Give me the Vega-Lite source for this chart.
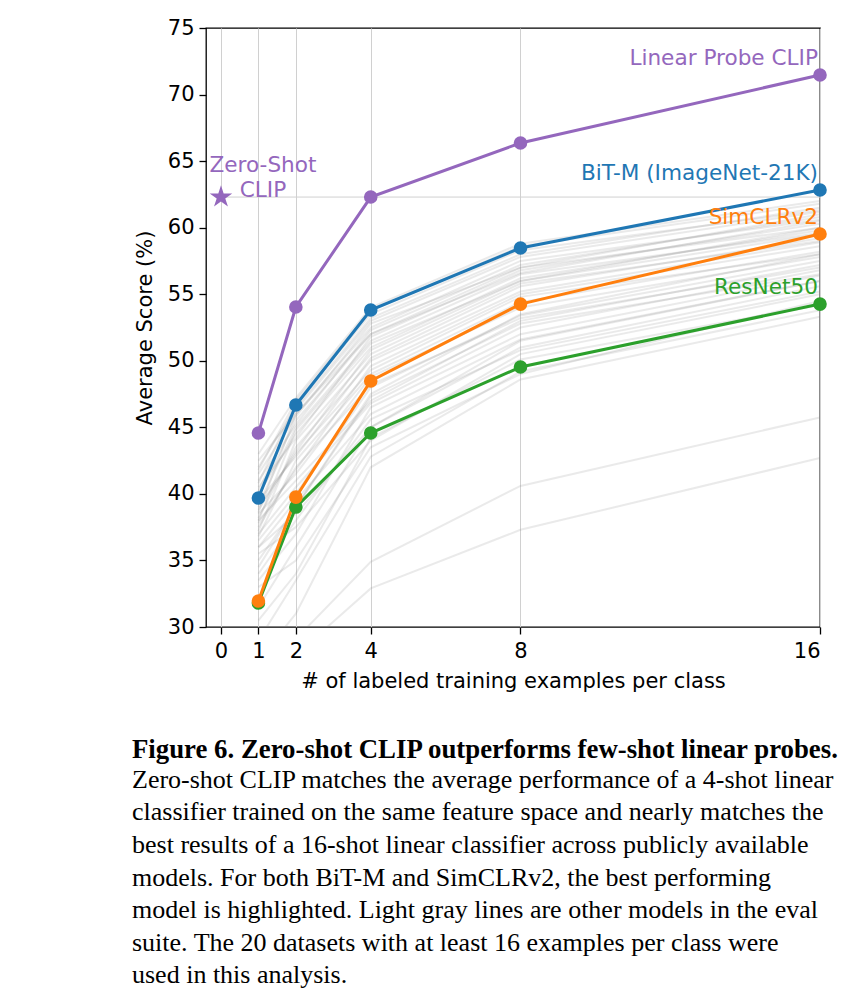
{
"$schema": "https://vega.github.io/schema/vega-lite/v6.json",
"width": 614, "height": 599,
"autosize": {"type": "none"},
"padding": {"left": 206, "top": 28, "right": 32, "bottom": 372},
"background": "white",
"title": {
  "text": "Figure 6. Zero-shot CLIP outperforms few-shot linear probes.",
  "subtitle": ["Zero-shot CLIP matches the average performance of a 4-shot linear", "classifier trained on the same feature space and nearly matches the", "best results of a 16-shot linear classifier across publicly available", "models.  For both BiT-M and SimCLRv2, the best performing", "model is highlighted. Light gray lines are other models in the eval", "suite.  The 20 datasets with at least 16 examples per class were", "used in this analysis."],
  "orient": "bottom", "anchor": "start", "frame": "group", "dx": -74, "offset": 46,
  "font": "Liberation Serif", "fontSize": 26.8, "fontWeight": "bold", "color": "black",
  "subtitleFont": "Liberation Serif", "subtitleFontSize": 26, "subtitleColor": "black", "subtitleLineHeight": 32.6, "subtitlePadding": 3
},
"config": {
  "view": {"stroke": "black", "strokeWidth": 1.3},
  "axis": {"labelFont": "DejaVu Sans", "titleFont": "DejaVu Sans", "labelFontSize": 21, "titleFontSize": 21, "titleFontWeight": "normal", "labelColor": "black", "titleColor": "black", "tickColor": "black", "tickSize": 7, "tickWidth": 1.3, "domain": false, "gridColor": "#d0d0d0", "gridWidth": 1}
},
"datasets": {
  "gray": [
{"m":"g1","k":1,"v":27.5},{"m":"g1","k":2,"v":31.0},{"m":"g1","k":4,"v":42.0},{"m":"g1","k":8,"v":48.6},{"m":"g1","k":16,"v":53.3},
{"m":"g2","k":1,"v":29.0},{"m":"g2","k":2,"v":33.5},{"m":"g2","k":4,"v":42.8},{"m":"g2","k":8,"v":49.2},{"m":"g2","k":16,"v":53.8},
{"m":"g3","k":1,"v":33.0},{"m":"g3","k":2,"v":35.0},{"m":"g3","k":4,"v":43.5},{"m":"g3","k":8,"v":49.0},{"m":"g3","k":16,"v":54.5},
{"m":"g4","k":1,"v":30.5},{"m":"g4","k":2,"v":34.0},{"m":"g4","k":4,"v":44.2},{"m":"g4","k":8,"v":50.1},{"m":"g4","k":16,"v":54.2},
{"m":"g5","k":1,"v":35.5},{"m":"g5","k":2,"v":37.5},{"m":"g5","k":4,"v":44.0},{"m":"g5","k":8,"v":50.5},{"m":"g5","k":16,"v":55.0},
{"m":"g6","k":1,"v":31.5},{"m":"g6","k":2,"v":36.0},{"m":"g6","k":4,"v":45.0},{"m":"g6","k":8,"v":51.0},{"m":"g6","k":16,"v":55.6},
{"m":"g7","k":1,"v":34.0},{"m":"g7","k":2,"v":38.0},{"m":"g7","k":4,"v":45.6},{"m":"g7","k":8,"v":50.8},{"m":"g7","k":16,"v":55.2},
{"m":"g8","k":1,"v":36.0},{"m":"g8","k":2,"v":39.5},{"m":"g8","k":4,"v":46.0},{"m":"g8","k":8,"v":51.6},{"m":"g8","k":16,"v":56.0},
{"m":"g9","k":1,"v":33.5},{"m":"g9","k":2,"v":37.0},{"m":"g9","k":4,"v":46.5},{"m":"g9","k":8,"v":52.0},{"m":"g9","k":16,"v":56.4},
{"m":"g10","k":1,"v":37.0},{"m":"g10","k":2,"v":40.5},{"m":"g10","k":4,"v":46.8},{"m":"g10","k":8,"v":52.5},{"m":"g10","k":16,"v":56.8},
{"m":"g11","k":1,"v":35.0},{"m":"g11","k":2,"v":39.0},{"m":"g11","k":4,"v":47.3},{"m":"g11","k":8,"v":52.8},{"m":"g11","k":16,"v":56.5},
{"m":"g12","k":1,"v":38.0},{"m":"g12","k":2,"v":41.0},{"m":"g12","k":4,"v":47.0},{"m":"g12","k":8,"v":53.0},{"m":"g12","k":16,"v":57.2},
{"m":"g13","k":1,"v":36.5},{"m":"g13","k":2,"v":40.0},{"m":"g13","k":4,"v":48.0},{"m":"g13","k":8,"v":53.4},{"m":"g13","k":16,"v":57.5},
{"m":"g14","k":1,"v":37.5},{"m":"g14","k":2,"v":42.0},{"m":"g14","k":4,"v":48.2},{"m":"g14","k":8,"v":53.2},{"m":"g14","k":16,"v":57.0},
{"m":"g15","k":1,"v":38.5},{"m":"g15","k":2,"v":41.5},{"m":"g15","k":4,"v":48.8},{"m":"g15","k":8,"v":54.0},{"m":"g15","k":16,"v":57.8},
{"m":"g16","k":1,"v":36.8},{"m":"g16","k":2,"v":42.5},{"m":"g16","k":4,"v":49.0},{"m":"g16","k":8,"v":54.4},{"m":"g16","k":16,"v":58.2},
{"m":"g17","k":1,"v":39.0},{"m":"g17","k":2,"v":43.0},{"m":"g17","k":4,"v":49.3},{"m":"g17","k":8,"v":54.8},{"m":"g17","k":16,"v":58.0},
{"m":"g18","k":1,"v":37.8},{"m":"g18","k":2,"v":41.8},{"m":"g18","k":4,"v":49.6},{"m":"g18","k":8,"v":55.0},{"m":"g18","k":16,"v":58.6},
{"m":"g19","k":1,"v":38.2},{"m":"g19","k":2,"v":43.5},{"m":"g19","k":4,"v":50.0},{"m":"g19","k":8,"v":55.2},{"m":"g19","k":16,"v":58.9},
{"m":"g20","k":1,"v":39.5},{"m":"g20","k":2,"v":42.8},{"m":"g20","k":4,"v":50.2},{"m":"g20","k":8,"v":55.6},{"m":"g20","k":16,"v":59.2},
{"m":"g21","k":1,"v":37.2},{"m":"g21","k":2,"v":44.0},{"m":"g21","k":4,"v":50.5},{"m":"g21","k":8,"v":55.8},{"m":"g21","k":16,"v":59.0},
{"m":"g22","k":1,"v":38.8},{"m":"g22","k":2,"v":43.2},{"m":"g22","k":4,"v":50.8},{"m":"g22","k":8,"v":56.0},{"m":"g22","k":16,"v":59.5},
{"m":"g23","k":1,"v":40.0},{"m":"g23","k":2,"v":44.5},{"m":"g23","k":4,"v":51.0},{"m":"g23","k":8,"v":56.2},{"m":"g23","k":16,"v":59.8},
{"m":"g24","k":1,"v":38.0},{"m":"g24","k":2,"v":44.8},{"m":"g24","k":4,"v":51.3},{"m":"g24","k":8,"v":56.0},{"m":"g24","k":16,"v":60.0},
{"m":"g25","k":1,"v":39.2},{"m":"g25","k":2,"v":45.0},{"m":"g25","k":4,"v":51.5},{"m":"g25","k":8,"v":56.5},{"m":"g25","k":16,"v":59.6},
{"m":"g26","k":1,"v":40.5},{"m":"g26","k":2,"v":44.2},{"m":"g26","k":4,"v":51.8},{"m":"g26","k":8,"v":56.8},{"m":"g26","k":16,"v":60.3},
{"m":"g27","k":1,"v":39.8},{"m":"g27","k":2,"v":45.5},{"m":"g27","k":4,"v":52.0},{"m":"g27","k":8,"v":56.6},{"m":"g27","k":16,"v":60.5},
{"m":"g28","k":1,"v":41.0},{"m":"g28","k":2,"v":45.2},{"m":"g28","k":4,"v":52.3},{"m":"g28","k":8,"v":57.2},{"m":"g28","k":16,"v":60.8},
{"m":"g29","k":1,"v":38.6},{"m":"g29","k":2,"v":46.0},{"m":"g29","k":4,"v":52.5},{"m":"g29","k":8,"v":57.5},{"m":"g29","k":16,"v":60.6},
{"m":"g30","k":1,"v":41.5},{"m":"g30","k":2,"v":45.8},{"m":"g30","k":4,"v":52.8},{"m":"g30","k":8,"v":57.0},{"m":"g30","k":16,"v":61.0},
{"m":"g31","k":1,"v":40.2},{"m":"g31","k":2,"v":46.3},{"m":"g31","k":4,"v":53.0},{"m":"g31","k":8,"v":57.8},{"m":"g31","k":16,"v":61.2},
{"m":"g32","k":1,"v":42.0},{"m":"g32","k":2,"v":46.5},{"m":"g32","k":4,"v":53.2},{"m":"g32","k":8,"v":58.0},{"m":"g32","k":16,"v":61.5},
{"m":"g33","k":1,"v":40.8},{"m":"g33","k":2,"v":46.8},{"m":"g33","k":4,"v":53.5},{"m":"g33","k":8,"v":58.3},{"m":"g33","k":16,"v":61.3},
{"m":"g34","k":1,"v":41.8},{"m":"g34","k":2,"v":47.0},{"m":"g34","k":4,"v":53.8},{"m":"g34","k":8,"v":58.6},{"m":"g34","k":16,"v":61.8},
{"m":"g35","k":1,"v":43.0},{"m":"g35","k":2,"v":47.2},{"m":"g35","k":4,"v":54.0},{"m":"g35","k":8,"v":58.8},{"m":"g35","k":16,"v":62.0},
{"m":"g36","k":1,"v":42.5},{"m":"g36","k":2,"v":46.0},{"m":"g36","k":4,"v":52.0},{"m":"g36","k":8,"v":57.0},{"m":"g36","k":16,"v":60.0},
{"m":"g37","k":1,"v":36.0},{"m":"g37","k":2,"v":38.5},{"m":"g37","k":4,"v":45.0},{"m":"g37","k":8,"v":51.5},{"m":"g37","k":16,"v":56.0},
{"m":"g38","k":1,"v":34.5},{"m":"g38","k":2,"v":39.0},{"m":"g38","k":4,"v":47.5},{"m":"g38","k":8,"v":53.5},{"m":"g38","k":16,"v":58.0},
{"m":"o1","k":1,"v":22.0},{"m":"o1","k":2,"v":29.1},{"m":"o1","k":4,"v":34.9},{"m":"o1","k":8,"v":40.6},{"m":"o1","k":16,"v":45.75},
{"m":"o2","k":1,"v":20.0},{"m":"o2","k":2,"v":27.9},{"m":"o2","k":4,"v":32.9},{"m":"o2","k":8,"v":37.3},{"m":"o2","k":16,"v":42.7}
  ],
  "main": [
{"s":"ResNet50","k":1,"v":31.8},{"s":"ResNet50","k":2,"v":39.01},{"s":"ResNet50","k":4,"v":44.57},{"s":"ResNet50","k":8,"v":49.53},{"s":"ResNet50","k":16,"v":54.26},
{"s":"SimCLRv2","k":1,"v":31.95},{"s":"SimCLRv2","k":2,"v":39.76},{"s":"SimCLRv2","k":4,"v":48.48},{"s":"SimCLRv2","k":8,"v":54.26},{"s":"SimCLRv2","k":16,"v":59.52},
{"s":"BiT-M (ImageNet-21K)","k":1,"v":39.69},{"s":"BiT-M (ImageNet-21K)","k":2,"v":46.68},{"s":"BiT-M (ImageNet-21K)","k":4,"v":53.81},{"s":"BiT-M (ImageNet-21K)","k":8,"v":58.47},{"s":"BiT-M (ImageNet-21K)","k":16,"v":62.83},
{"s":"Linear Probe CLIP","k":1,"v":44.57},{"s":"Linear Probe CLIP","k":2,"v":54.04},{"s":"Linear Probe CLIP","k":4,"v":62.3},{"s":"Linear Probe CLIP","k":8,"v":66.36},{"s":"Linear Probe CLIP","k":16,"v":71.47}
  ],
  "zs": [{"s":"Zero-Shot CLIP","k":0,"v":62.3,"k2":16,"label":"Zero-Shot\nCLIP"}]
},
"layer": [
  {"data": {"name": "gray"}, "mark": {"type": "line", "clip": true, "color": "#808080", "opacity": 0.17, "strokeWidth": 2},
   "encoding": {
     "x": {"field": "k", "type": "quantitative", "scale": {"domain": [-0.4, 16], "nice": false, "zero": false},
        "axis": {"values": [0,1,2,4,8,16], "grid": true, "title": "# of labeled training examples per class", "labelPadding": 6, "titlePadding": 9}},
     "y": {"field": "v", "type": "quantitative", "scale": {"domain": [30, 75], "nice": false, "zero": false},
        "axis": {"values": [30,35,40,45,50,55,60,65,70,75], "grid": false, "title": "Average Score (%)", "labelPadding": 5, "titlePadding": 12}},
     "detail": {"field": "m", "type": "nominal"}}},
  {"data": {"name": "zs"}, "mark": {"type": "rule", "color": "#d0d0d0", "strokeWidth": 1},
   "encoding": {"x": {"field": "k", "type": "quantitative"}, "x2": {"field": "k2"}, "y": {"field": "v", "type": "quantitative"}}},
  {"data": {"name": "main"}, "mark": {"type": "line", "strokeWidth": 3},
   "encoding": {"x": {"field": "k", "type": "quantitative"}, "y": {"field": "v", "type": "quantitative"},
     "color": {"field": "s", "type": "nominal", "legend": null,
      "scale": {"domain": ["Linear Probe CLIP","BiT-M (ImageNet-21K)","SimCLRv2","ResNet50","Zero-Shot CLIP"], "range": ["#9467bd","#1f77b4","#ff7f0e","#2ca02c","#9467bd"]}}}},
  {"data": {"name": "main"}, "mark": {"type": "point", "filled": true, "opacity": 1, "size": 185},
   "encoding": {"x": {"field": "k", "type": "quantitative"}, "y": {"field": "v", "type": "quantitative"}, "color": {"field": "s", "type": "nominal", "legend": null}}},
  {"data": {"name": "main"}, "transform": [{"filter": "datum.k == 16"}],
   "mark": {"type": "text", "align": "right", "baseline": "alphabetic", "dx": -2, "dy": -10, "font": "DejaVu Sans", "fontSize": 21.6},
   "encoding": {"x": {"field": "k", "type": "quantitative"}, "y": {"field": "v", "type": "quantitative"}, "text": {"field": "s", "type": "nominal"}, "color": {"field": "s", "type": "nominal", "legend": null}}},
  {"data": {"name": "zs"}, "mark": {"type": "point", "shape": "M0,-1L0.2245,-0.309L0.951,-0.309L0.363,0.118L0.588,0.809L0,0.382L-0.588,0.809L-0.363,0.118L-0.951,-0.309L-0.2245,-0.309Z", "filled": true, "opacity": 1, "size": 560},
   "encoding": {"x": {"field": "k", "type": "quantitative"}, "y": {"field": "v", "type": "quantitative"}, "color": {"field": "s", "type": "nominal", "legend": null}}},
  {"data": {"name": "zs"}, "mark": {"type": "text", "align": "center", "baseline": "alphabetic", "dx": 42, "dy": -25, "lineHeight": 25, "lineBreak": "\n", "font": "DejaVu Sans", "fontSize": 21.6},
   "encoding": {"x": {"field": "k", "type": "quantitative"}, "y": {"field": "v", "type": "quantitative"}, "text": {"field": "label", "type": "nominal"}, "color": {"field": "s", "type": "nominal", "legend": null}}}
]
}
